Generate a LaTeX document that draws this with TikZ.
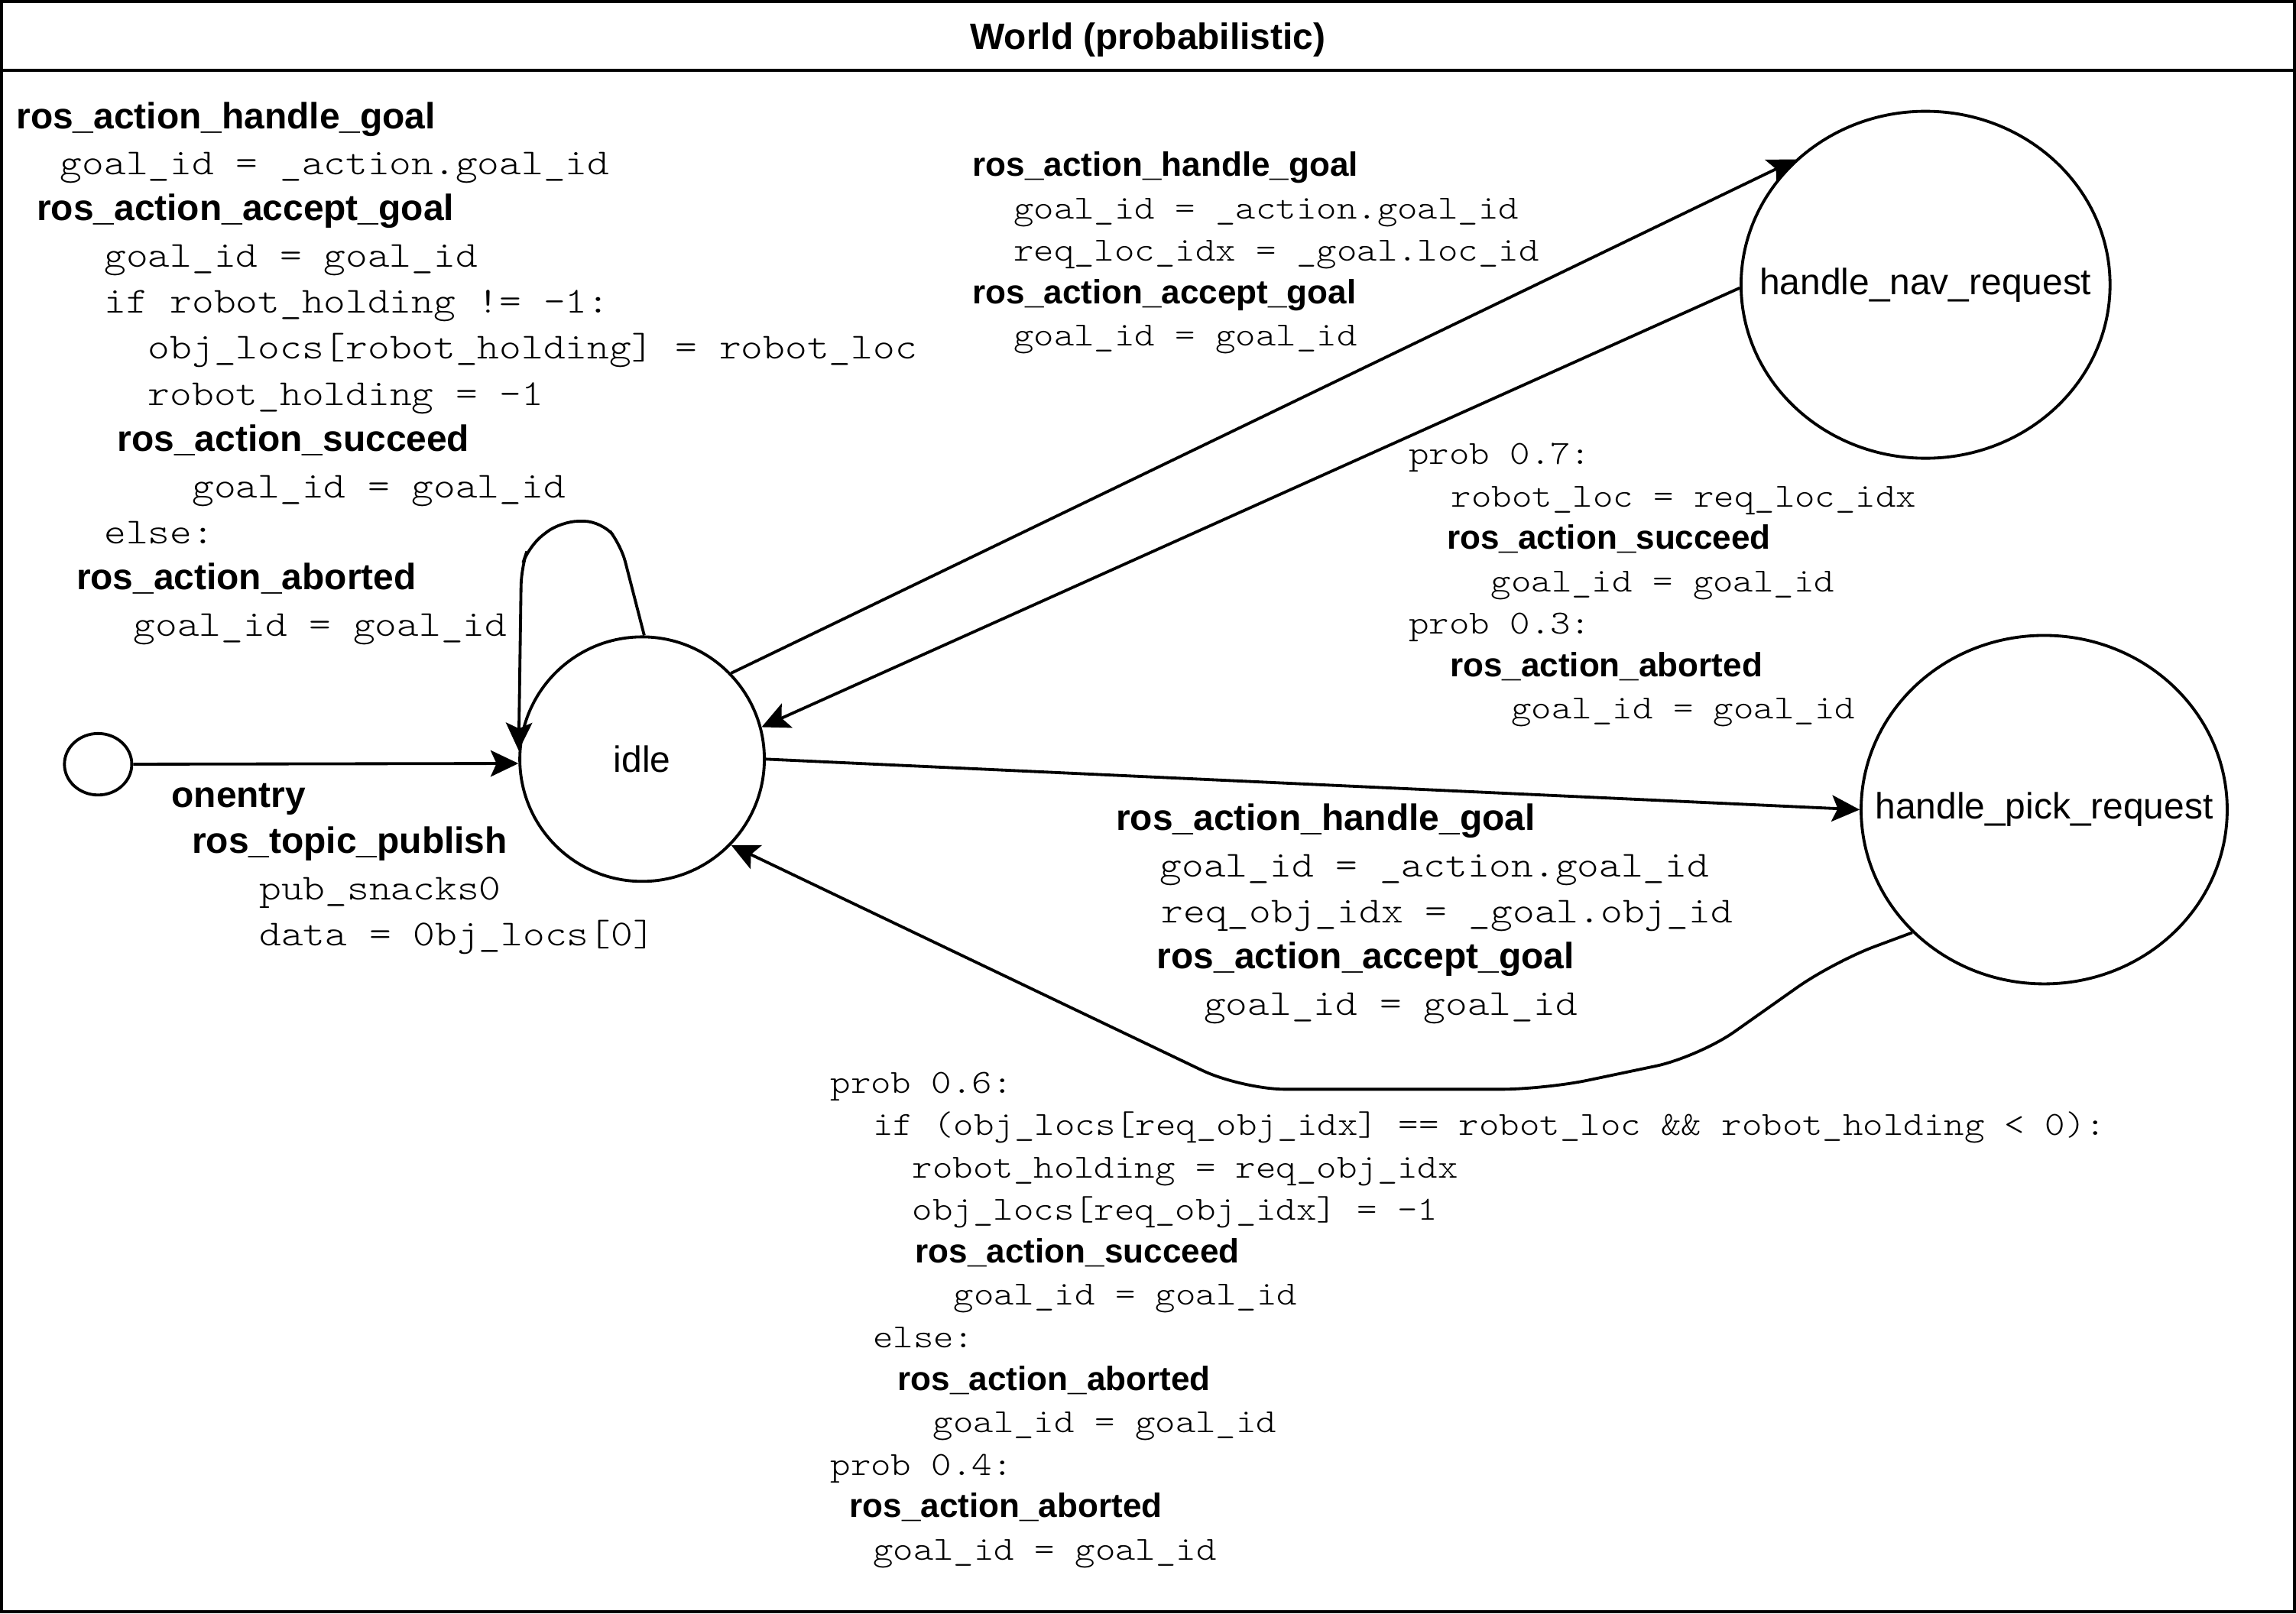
\documentclass[tikz,border=0pt]{standalone}
\usepackage{fontspec}
\setmainfont{Liberation Sans}
\newfontfamily\codefont[FakeStretch=1.143]{lmmonolt10-regular.otf}
\usetikzlibrary{arrows.meta,shapes.geometric}
\begin{document}
\begin{tikzpicture}[x=1pt,y=-1pt,
  statenode/.style={draw,line width=2pt,inner sep=0pt,font=\fontsize{25}{30}\selectfont},
  trans/.style={line width=2pt,-{Stealth[length=19pt,width=18pt,inset=4pt]}},
  lines/.style={anchor=north west,inner sep=0pt,align=left},
  bigtext/.style={font=\fontsize{25}{31.5}\selectfont},
  smalltext/.style={font=\fontsize{23}{29}\selectfont}]
  \useasboundingbox (0,0) rectangle (1568,1102);
  \draw[line width=2pt] (1,1) rectangle (1567,1101);
  \draw[line width=2pt] (1,48) -- (1567,48);
  \node[font=\bfseries\fontsize{25}{30}\selectfont] (world) at (784,27) {World (probabilistic)};

  \node[statenode,ellipse,minimum width=46pt,minimum height=42pt] (init) at (67,522) {};
  \node[statenode,circle,minimum size=167pt] (idle) at (438.5,518.5) {idle};
  \node[statenode,ellipse,minimum width=252pt,minimum height=237pt] (nav) at (1315,194.5) {\makebox[0pt]{handle\_nav\_request}};
  \node[statenode,ellipse,minimum width=250pt,minimum height=238pt] (pick) at (1396,553) {\makebox[0pt]{handle\_pick\_request}};

  \draw[trans] (init) -- (idle.182);
  \draw[trans,rounded corners=12pt] (idle.89) -- (424,372) -- (411,356) -- (383,356) -- (361,373) -- (356,388) -- (idle.176);
  \draw[trans] (idle.44.5) -- (nav.136.5);
  \draw[trans] (nav.181) -- (idle.15.7);
  \draw[trans] (idle.0) -- (pick.west);
  \draw[trans,rounded corners=30pt] (pick.223.4) -- (1252,657) -- (1160,722) -- (1055,744) -- (848,744) -- (idle.-44.5);

  \node[lines,bigtext] (selflabel) at (11,69.5) {\textbf{ros\_action\_handle\_goal}\\
    \hspace*{30pt}{\codefont goal\_id = \_action.goal\_id}\\
    \hspace*{14pt}\textbf{ros\_action\_accept\_goal}\\
    \hspace*{60pt}{\codefont goal\_id = goal\_id}\\
    \hspace*{60pt}{\codefont if robot\_holding != -1:}\\
    \hspace*{90pt}{\codefont obj\_locs[robot\_holding] = robot\_loc}\\
    \hspace*{90pt}{\codefont robot\_holding = -1}\\
    \hspace*{69pt}\textbf{ros\_action\_succeed}\\
    \hspace*{120pt}{\codefont goal\_id = goal\_id}\\
    \hspace*{60pt}{\codefont else:}\\
    \hspace*{41pt}\textbf{ros\_action\_aborted}\\
    \hspace*{80pt}{\codefont goal\_id = goal\_id}};
  \node[lines,bigtext] (entrylabel) at (117,535) {\textbf{onentry}\\
    \hspace*{14pt}\textbf{ros\_topic\_publish}\\
    \hspace*{60pt}{\codefont pub\_snacks0}\\
    \hspace*{60pt}{\codefont data = 0bj\_locs[0]}};
  \node[lines,smalltext] (navlabel) at (664,103.5) {\textbf{ros\_action\_handle\_goal}\\
    \hspace*{28pt}{\codefont goal\_id = \_action.goal\_id}\\
    \hspace*{28pt}{\codefont req\_loc\_idx = \_goal.loc\_id}\\
    \textbf{ros\_action\_accept\_goal}\\
    \hspace*{28pt}{\codefont goal\_id = goal\_id}};
  \node[lines,smalltext] (navback) at (962,302.5) {{\codefont prob 0.7:}\\
    \hspace*{29pt}{\codefont robot\_loc = req\_loc\_idx}\\
    \hspace*{26pt}\textbf{ros\_action\_succeed}\\
    \hspace*{56pt}{\codefont goal\_id = goal\_id}\\
    {\codefont prob 0.3:}\\
    \hspace*{28pt}\textbf{ros\_action\_aborted}\\
    \hspace*{70pt}{\codefont goal\_id = goal\_id}};
  \node[lines,bigtext] (picklabel) at (762,549) {\textbf{ros\_action\_handle\_goal}\\
    \hspace*{30pt}{\codefont goal\_id = \_action.goal\_id}\\
    \hspace*{31pt}{\codefont req\_obj\_idx = \_goal.obj\_id}\\
    \hspace*{28pt}\textbf{ros\_action\_accept\_goal}\\
    \hspace*{60pt}{\codefont goal\_id = goal\_id}};
  \node[lines,smalltext] (pickback) at (567,732) {{\codefont prob 0.6:}\\
    \hspace*{29pt}{\codefont if (obj\_locs[req\_obj\_idx] == robot\_loc \&\& robot\_holding < 0):}\\
    \hspace*{56pt}{\codefont robot\_holding = req\_obj\_idx}\\
    \hspace*{56pt}{\codefont obj\_locs[req\_obj\_idx] = -1}\\
    \hspace*{58pt}\textbf{ros\_action\_succeed}\\
    \hspace*{84pt}{\codefont goal\_id = goal\_id}\\
    \hspace*{29pt}{\codefont else:}\\
    \hspace*{46pt}\textbf{ros\_action\_aborted}\\
    \hspace*{70pt}{\codefont goal\_id = goal\_id}\\
    {\codefont prob 0.4:}\\
    \hspace*{13pt}\textbf{ros\_action\_aborted}\\
    \hspace*{29pt}{\codefont goal\_id = goal\_id}};
\end{tikzpicture}
\end{document}
